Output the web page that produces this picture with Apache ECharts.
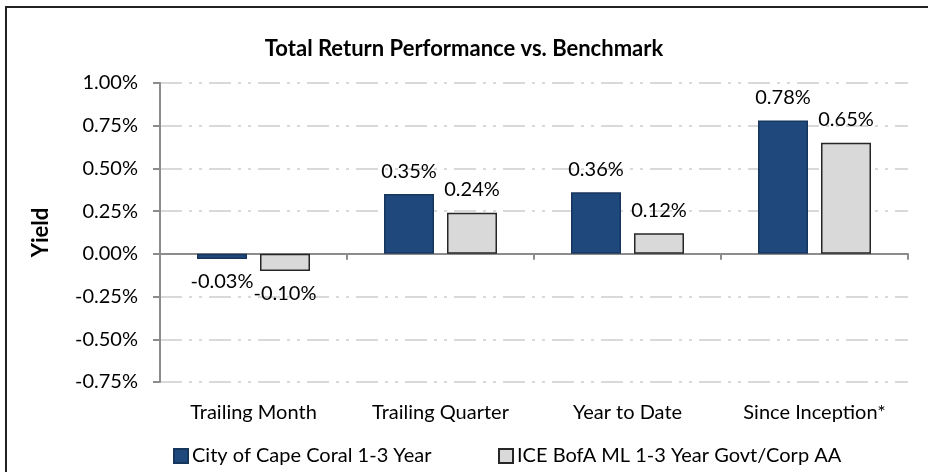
<!DOCTYPE html>
<html>
<head>
<meta charset="utf-8">
<script src="https://cdn.jsdelivr.net/npm/echarts@6/dist/echarts.min.js"></script>
<style>
  html, body { margin: 0; padding: 0; background: #fff; }
  #chart { width: 928px; height: 472px; }
</style>
</head>
<body>
<div id="chart"></div>
<script>
// data (percent)
const categories = ['Trailing Month', 'Trailing Quarter', 'Year to Date', 'Since Inception*'];
const capeCoral = [-0.03, 0.35, 0.36, 0.78];
const benchmark = [-0.10, 0.24, 0.12, 0.65];
const seriesNames = ['City of Cape Coral 1-3 Year', 'ICE BofA ML 1-3 Year Govt/Corp AA'];

const FONT = 'Lato';
const pct = v => v.toFixed(2) + '%';

// negative bars carry their label underneath
const withLabels = arr => arr.map(v => ({
  value: v,
  label: { position: v < 0 ? 'bottom' : 'top' }
}));

const chart = echarts.init(document.getElementById('chart'));

const legendText = { fontFamily: FONT, fontSize: 20, color: '#000', padding: [0, 0, 0, -1] };

const option = {
  animation: false,
  textStyle: { fontFamily: FONT },
  title: {
    text: 'Total Return Performance vs. Benchmark',
    left: 459,
    textAlign: 'center',
    top: 33,
    textStyle: { fontFamily: FONT, fontSize: 22, fontWeight: 'bold', color: '#000' }
  },
  graphic: [{
    type: 'rect',
    shape: { x: 6, y: 7, width: 930, height: 480 },
    style: { fill: 'none', stroke: '#222', lineWidth: 2 },
    silent: true
  }],
  legend: [
    {
      data: [seriesNames[0]],
      left: 168, top: 441,
      itemWidth: 14, itemHeight: 14, itemGap: 4,
      icon: 'rect',
      textStyle: legendText
    },
    {
      data: [seriesNames[1]],
      left: 493, top: 441,
      itemWidth: 14, itemHeight: 14, itemGap: 4,
      icon: 'rect',
      textStyle: legendText
    }
  ],
  grid: { left: 160, right: 20, top: 83, bottom: 90 },
  xAxis: [
    {
      type: 'category',
      data: categories,
      axisLine: { onZero: true, lineStyle: { color: '#8c8c8c', width: 2 } },
      axisTick: { show: true, length: 6, lineStyle: { color: '#8c8c8c', width: 2 } },
      axisLabel: { show: false },
      splitLine: { show: false }
    },
    {
      type: 'category',
      data: categories,
      position: 'bottom',
      axisLine: { show: false },
      axisTick: { show: false },
      axisLabel: { show: true, margin: 21, fontFamily: FONT, fontSize: 20, color: '#000' }
    }
  ],
  yAxis: {
    type: 'value',
    min: -0.75,
    max: 1,
    interval: 0.25,
    name: 'Yield',
    nameLocation: 'middle',
    nameGap: 108,
    nameTextStyle: { fontFamily: FONT, fontSize: 22, fontWeight: 'bold', color: '#000' },
    axisLine: { show: true, lineStyle: { color: '#8c8c8c', width: 2 } },
    axisTick: { show: true, length: 7, lineStyle: { color: '#8c8c8c', width: 2 } },
    axisLabel: { formatter: pct, margin: 22, fontFamily: FONT, fontSize: 20, color: '#000' },
    splitLine: {
      show: true,
      lineStyle: { color: '#d9d9d9', width: 2, type: [22, 7, 3, 7, 3, 7] }
    }
  },
  series: [
    {
      name: seriesNames[0],
      type: 'bar',
      data: withLabels(capeCoral),
      barWidth: 50,
      barGap: '26%',
      itemStyle: { color: '#1f497d', borderColor: '#17365d', borderWidth: 1.5 },
      label: {
        show: true, distance: 13, formatter: p => pct(p.value),
        fontFamily: FONT, fontSize: 20, color: '#000'
      }
    },
    {
      name: seriesNames[1],
      type: 'bar',
      data: withLabels(benchmark),
      barWidth: 50,
      itemStyle: { color: '#d9d9d9', borderColor: '#262626', borderWidth: 1.5 },
      label: {
        show: true, distance: 13, formatter: p => pct(p.value),
        fontFamily: FONT, fontSize: 20, color: '#000'
      }
    }
  ]
};

chart.setOption(option);
</script>
</body>
</html>
